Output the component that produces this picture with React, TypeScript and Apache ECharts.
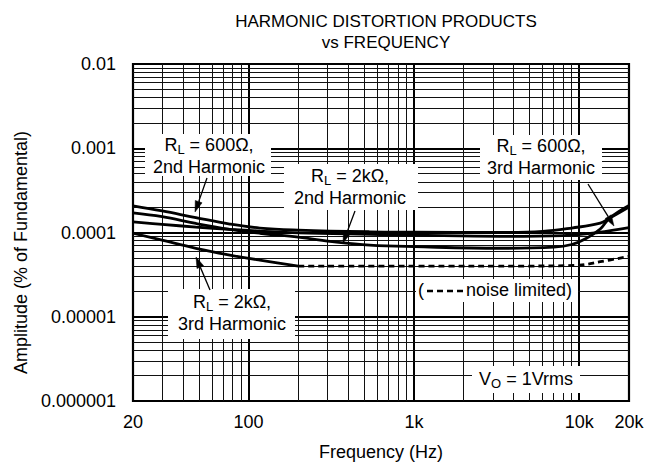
import React, { useEffect, useRef } from 'react';
import * as echarts from 'echarts';

const TITLE = 'HARMONIC DISTORTION PRODUCTS\nvs FREQUENCY';
const X_NAME = 'Frequency (Hz)';
const Y_NAME = 'Amplitude (% of Fundamental)';

const X_MIN = 20;
const X_MAX = 20000;
const Y_MIN = 0.000001;
const Y_MAX = 0.01;

const X_MINOR_GRID = [30, 40, 50, 60, 70, 80, 90, 200, 300, 400, 500, 600, 700, 800, 900,
  2000, 3000, 4000, 5000, 6000, 7000, 8000, 9000];
const Y_MINOR_GRID = [
  2e-6, 3e-6, 4e-6, 5e-6, 6e-6, 7e-6, 8e-6, 9e-6,
  2e-5, 3e-5, 4e-5, 5e-5, 6e-5, 7e-5, 8e-5, 9e-5,
  2e-4, 3e-4, 4e-4, 5e-4, 6e-4, 7e-4, 8e-4, 9e-4,
  2e-3, 3e-3, 4e-3, 5e-3, 6e-3, 7e-3, 8e-3, 9e-3,
];

// RL = 600 ohm, 2nd harmonic
const FREQ_600_2ND = [20, 30, 48, 77, 117, 200, 540, 1000, 3300, 6000, 9000, 13400, 15300, 20000];
const AMP_600_2ND = [2.07e-4, 1.8e-4, 1.5e-4, 1.26e-4, 1.13e-4, 1.07e-4, 1.02e-4, 1.01e-4, 1.0e-4, 1.03e-4, 1.13e-4, 1.29e-4, 1.49e-4, 2.0e-4];

// RL = 600 ohm, 3rd harmonic
const FREQ_600_3RD = [20, 30, 48, 77, 117, 200, 540, 1000, 3300, 8000, 13000, 20000];
const AMP_600_3RD = [1.34e-4, 1.25e-4, 1.16e-4, 1.09e-4, 1.04e-4, 9.9e-5, 9.5e-5, 9.3e-5, 9.0e-5, 9.2e-5, 1.0e-4, 1.14e-4];

// RL = 2k ohm, 2nd harmonic
const FREQ_2K_2ND = [20, 30, 48, 77, 117, 200, 340, 540, 1000, 3300, 7000, 9000, 11000, 13400, 15300, 20000];
const AMP_2K_2ND = [1.71e-4, 1.54e-4, 1.28e-4, 1.09e-4, 9.8e-5, 8.8e-5, 7.7e-5, 7.1e-5, 6.8e-5, 6.5e-5, 6.7e-5, 7.2e-5, 8.5e-5, 1.1e-4, 1.49e-4, 2.1e-4];

// RL = 2k ohm, 3rd harmonic (solid part)
const FREQ_2K_3RD = [20, 30, 48, 77, 117, 200];
const AMP_2K_3RD = [9.8e-5, 8.1e-5, 6.5e-5, 5.4e-5, 4.7e-5, 4.0e-5];

// noise limited continuation (dashed)
const FREQ_NOISE = [200, 1000, 5000, 10000, 13400, 20000];
const AMP_NOISE = [4.0e-5, 4.0e-5, 4.0e-5, 4.1e-5, 4.5e-5, 5.2e-5];

const FONT = 'Liberation Sans, Arial, Helvetica, sans-serif';

function pairs(xs: number[], ys: number[]) {
  return xs.map((x, i) => [x, ys[i]]);
}

function arrow(x1: number, y1: number, x2: number, y2: number) {
  const dx = x2 - x1;
  const dy = y2 - y1;
  const len = Math.sqrt(dx * dx + dy * dy);
  const ux = dx / len;
  const uy = dy / len;
  const hl = 11;
  const hw = 3.6;
  const bx = x2 - ux * hl;
  const by = y2 - uy * hl;
  return [
    {
      type: 'line',
      z: 60,
      shape: { x1, y1, x2: bx, y2: by },
      style: { stroke: '#000', lineWidth: 1.3 },
    },
    {
      type: 'polygon',
      z: 60,
      shape: {
        points: [
          [x2, y2],
          [bx - uy * hw, by + ux * hw],
          [bx + uy * hw, by - ux * hw],
        ],
      },
      style: { fill: '#000', stroke: '#000', lineWidth: 0.5 },
    },
  ];
}

const RICH = {
  r: { fontSize: 18, fontFamily: FONT, lineHeight: 22, color: '#000' },
  s: { fontSize: 13, fontFamily: FONT, lineHeight: 22, color: '#000', verticalAlign: 'bottom' },
};

function boxLabel(cx: number, cy: number, text: string, bx: number, by: number, bw: number, bh: number) {
  return [
    {
      type: 'rect',
      z: 50,
      shape: { x: bx, y: by, width: bw, height: bh },
      style: { fill: '#fff' },
    },
    {
      type: 'text',
      z: 55,
      x: cx,
      y: cy,
      style: {
        text,
        rich: RICH,
        fontSize: 18,
        fontFamily: FONT,
        fill: '#000',
        align: 'center',
        verticalAlign: 'middle',
      },
    },
  ];
}

export default function App() {
  const ref = useRef<HTMLDivElement>(null);

  useEffect(() => {
    document.body.style.margin = '0';
    const chart = echarts.init(ref.current!, null, { renderer: 'svg' });

    const gridLineSeries = {
      type: 'line',
      data: [],
      silent: true,
      z: 1,
      markLine: {
        silent: true,
        symbol: ['none', 'none'],
        label: { show: false },
        animation: false,
        lineStyle: { color: '#111', width: 1, type: 'solid' },
        emphasis: { disabled: true },
        data: [
          ...X_MINOR_GRID.map((v) => [{ coord: [v, Y_MIN] }, { coord: [v, Y_MAX] }]),
          ...Y_MINOR_GRID.map((v) => [{ coord: [X_MIN, v] }, { coord: [X_MAX, v] }]),
        ],
      },
    };

    const curve = (name: string, data: number[][], dashed = false) => ({
      name,
      type: 'line',
      data,
      smooth: 0.4,
      symbol: 'none',
      z: 5,
      lineStyle: { color: '#000', width: 2.8, type: dashed ? [6, 4] : 'solid' },
    });

    const graphic: any[] = [
      ...boxLabel(209, 156, '{r|R}{s|L}{r| = 600Ω,}\n{r|2nd Harmonic}', 145, 134, 126, 42),
      ...boxLabel(350, 187, '{r|R}{s|L}{r| = 2kΩ,}\n{r|2nd Harmonic}', 284, 164, 134, 46),
      ...boxLabel(541, 157, '{r|R}{s|L}{r| = 600Ω,}\n{r|3rd Harmonic}', 480, 135, 122, 45),
      ...boxLabel(232, 313, '{r|R}{s|L}{r| = 2kΩ,}\n{r|3rd Harmonic}', 168, 289, 127, 50),
      ...boxLabel(526, 379, '{r|V}{s|O}{r| = 1Vrms}', 472, 366, 108, 27),
      {
        type: 'rect',
        z: 50,
        shape: { x: 416, y: 279, width: 162, height: 23 },
        style: { fill: '#fff' },
      },
      {
        type: 'text',
        z: 55,
        x: 418,
        y: 290,
        style: { text: '(', fontSize: 18, fontFamily: FONT, fill: '#000', align: 'left', verticalAlign: 'middle' },
      },
      {
        type: 'line',
        z: 55,
        shape: { x1: 427, y1: 291, x2: 464, y2: 291 },
        style: { stroke: '#000', lineWidth: 2.6, lineDash: [6, 4] },
      },
      {
        type: 'text',
        z: 55,
        x: 466,
        y: 290,
        style: { text: 'noise limited)', fontSize: 18, fontFamily: FONT, fill: '#000', align: 'left', verticalAlign: 'middle' },
      },
      ...arrow(207, 178, 195, 212),
      ...arrow(355, 211, 343, 243),
      ...arrow(588, 184, 614, 226),
      ...arrow(210, 290, 196, 257),
    ];

    chart.setOption({
      animation: false,
      backgroundColor: '#fff',
      title: {
        text: TITLE,
        left: 381,
        top: 6,
        textAlign: 'center',
        textStyle: { fontSize: 17, fontWeight: 'normal', color: '#000', fontFamily: FONT, lineHeight: 21 },
      },
      grid: {
        left: 133,
        top: 64,
        width: 496,
        height: 337,
        show: true,
        borderColor: '#000',
        borderWidth: 2.2,
        backgroundColor: 'transparent',
      },
      xAxis: {
        type: 'log',
        logBase: 10,
        min: X_MIN,
        max: X_MAX,
        name: X_NAME,
        nameLocation: 'middle',
        nameGap: 42,
        nameTextStyle: { fontSize: 18, color: '#000', fontFamily: FONT },
        axisLine: { show: false },
        axisTick: { show: false },
        axisLabel: {
          fontSize: 18,
          color: '#000',
          fontFamily: FONT,
          margin: 12,
          showMinLabel: true,
          showMaxLabel: true,
          formatter: (v: number) => {
            const r = Math.round(v);
            return r >= 1000 ? `${Math.round(r / 1000)}k` : String(r);
          },
        },
        splitLine: { show: true, lineStyle: { color: '#000', width: 2 } },
        minorSplitLine: { show: false },
      },
      yAxis: {
        type: 'log',
        logBase: 10,
        min: Y_MIN,
        max: Y_MAX,
        name: Y_NAME,
        nameLocation: 'middle',
        nameGap: 100,
        nameTextStyle: { fontSize: 18, color: '#000', fontFamily: FONT, padding: [0, 40, 0, 0] },
        axisLine: { show: false },
        axisTick: { show: false },
        axisLabel: {
          fontSize: 18,
          color: '#000',
          fontFamily: FONT,
          margin: 17,
          formatter: (v: number) => {
            const n = Math.round(-Math.log10(v));
            return v.toFixed(n);
          },
        },
        splitLine: { show: true, lineStyle: { color: '#000', width: 2 } },
      },
      series: [
        gridLineSeries,
        curve('RL = 600Ω, 2nd Harmonic', pairs(FREQ_600_2ND, AMP_600_2ND)),
        curve('RL = 600Ω, 3rd Harmonic', pairs(FREQ_600_3RD, AMP_600_3RD)),
        curve('RL = 2kΩ, 2nd Harmonic', pairs(FREQ_2K_2ND, AMP_2K_2ND)),
        curve('RL = 2kΩ, 3rd Harmonic', pairs(FREQ_2K_3RD, AMP_2K_3RD)),
        curve('noise limited', pairs(FREQ_NOISE, AMP_NOISE), true),
      ],
      graphic,
    });

    return () => chart.dispose();
  }, []);

  return <div ref={ref} style={{ width: 652, height: 466 }} />;
}
